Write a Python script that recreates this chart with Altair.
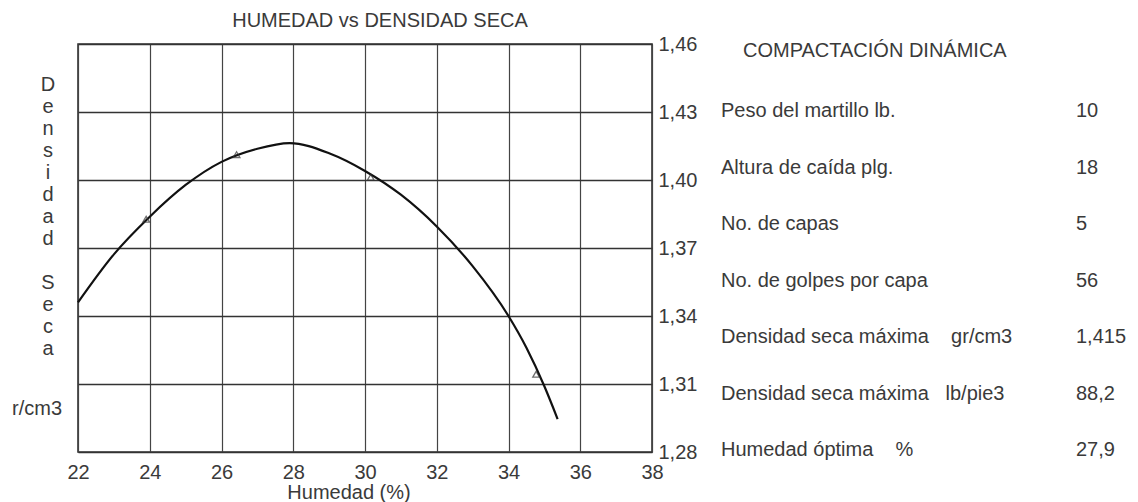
import altair as alt
import pandas as pd

# ---- data ----
curve_humedad = [22.0, 23.0, 24.0, 25.0, 26.0, 27.0, 27.9, 29.0, 30.0, 31.0,
                 32.0, 33.0, 34.0, 34.5, 35.0, 35.37]
curve_densidad = [1.3460, 1.3672, 1.3838, 1.3978, 1.4080, 1.4138, 1.4163, 1.4118, 1.4040, 1.3935,
                  1.3795, 1.3620, 1.3400, 1.3260, 1.3090, 1.2945]

obs_humedad = [23.9, 26.42, 30.16, 34.77]
obs_densidad = [1.3827, 1.4112, 1.4012, 1.3143]

x_ticks = [22, 24, 26, 28, 30, 32, 34, 36, 38]
y_ticks = [1.28, 1.31, 1.34, 1.37, 1.40, 1.43, 1.46]

NB = "\u00a0"
panel_title = "COMPACTACIÓN DINÁMICA"
panel_labels = ["Peso del martillo lb.", "Altura de caída plg.", "No. de capas",
                "No. de golpes por capa",
                "Densidad seca máxima" + NB * 4 + "gr/cm3",
                "Densidad seca máxima" + NB * 3 + "lb/pie3",
                "Humedad óptima" + NB * 4 + "%"]
panel_values = ["10", "18", "5", "56", "1,415", "88,2", "27,9"]

chart_title = "HUMEDAD vs DENSIDAD SECA"
x_title = "Humedad (%)"
y_title_words = ["Densidad", "Seca"]
y_unit = "r/cm3"

FONT = "Liberation Sans"
TXT = "#3a3a3a"
FS = 20
LH = 22

curve_df = pd.DataFrame({"h": curve_humedad, "d": curve_densidad})
obs_df = pd.DataFrame({"h": obs_humedad, "d": obs_densidad})
one = pd.DataFrame({"k": [0]})

x_scale = alt.Scale(domain=[22, 38], nice=False, zero=False)
y_scale = alt.Scale(domain=[1.28, 1.46], nice=False, zero=False)

x_axis = alt.Axis(values=x_ticks, grid=True, gridColor="#444444", gridWidth=1.2,
                  domain=False, ticks=False, labelPadding=10, labelFontSize=FS,
                  labelFont=FONT, labelColor=TXT, labelFlush=False, labelOverlap=False,
                  title=None)
y_axis = alt.Axis(values=y_ticks, orient="right", grid=True, gridColor="#333333",
                  gridWidth=1.5, domain=False, ticks=False, labelPadding=6,
                  labelFontSize=FS, labelFont=FONT, labelColor=TXT, labelFlush=False,
                  labelOverlap=False,
                  labelExpr="replace(format(datum.value, '.2f'), '.', ',')", title=None)

curve = alt.Chart(curve_df).mark_line(color="#111111", strokeWidth=2.2, interpolate="monotone").encode(
    x=alt.X("h:Q", scale=x_scale, axis=x_axis),
    y=alt.Y("d:Q", scale=y_scale, axis=y_axis),
)

points = alt.Chart(obs_df).mark_point(shape="triangle-up", filled=False, size=45,
                                      color="#333333", strokeWidth=1.3).encode(
    x=alt.X("h:Q", scale=x_scale),
    y=alt.Y("d:Q", scale=y_scale),
)


def txt(text, x, y, align="left", baseline="middle", size=FS, **kw):
    return alt.Chart(one).mark_text(text=text, align=align, baseline=baseline,
                                    font=FONT, fontSize=size, color=TXT, **kw).encode(
        x=alt.value(x), y=alt.value(y))


layers = [curve, points]
layers.append(txt(chart_title, 302, -23, align="center"))
layers.append(txt(x_title, 271, 449, align="center"))
top = 31
for w in y_title_words:
    layers.append(txt(list(w), -30, top, align="center", baseline="top", lineHeight=LH))
    top += (len(w) + 1) * LH
layers.append(txt(y_unit, -16, 365, align="right"))
layers.append(txt(panel_title, 665, 7))
for i, (lab, val) in enumerate(zip(panel_labels, panel_values)):
    yy = 110 + 56.5 * i - 44 + 1
    layers.append(txt(lab, 643, yy))
    layers.append(txt(val, 998, yy))

chart = alt.layer(*layers).properties(
    width=574, height=408,
    autosize=alt.AutoSizeParams(type="none"),
    padding={"left": 70, "top": 36, "right": 478, "bottom": 50},
    background="white",
).configure_view(stroke="#333333", strokeWidth=1.6)

chart.save("out.html", embed_options={"renderer": "svg", "actions": False})
